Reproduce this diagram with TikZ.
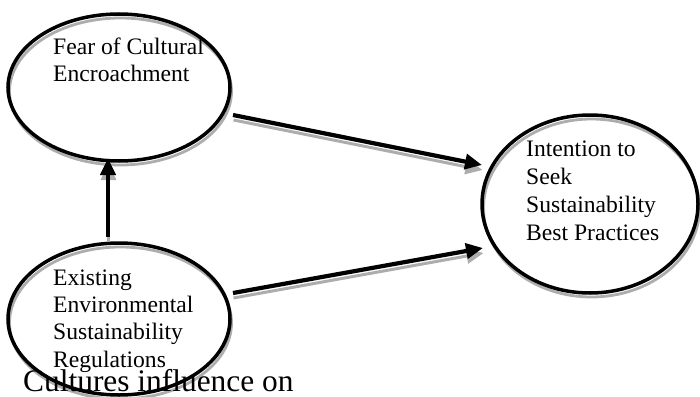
\documentclass[tikz,border=0pt]{standalone}
\usepackage{fontspec}
\setmainfont{Liberation Serif}
\usetikzlibrary{arrows.meta,shapes.geometric}
\definecolor{shadowgray}{gray}{0.68}
\tikzset{
  shadowed/.style={preaction={draw=shadowgray, line width=2.8pt, transform canvas={shift={(1.5pt,-4pt)}}}},
  bubble/.style={ellipse, draw=black, line width=3.5pt, inner sep=0pt, shadowed},
  label/.style={anchor=base west, inner sep=0pt, font=\fontsize{23.6pt}{28pt}\selectfont},
  labeltight/.style={label, font=\fontsize{23.6pt}{27.4pt}\selectfont},
  link/.style={draw=black, line width=4.2pt, -{Triangle[length=17pt,width=15pt]},
    preaction={draw=shadowgray, line width=3pt, -{Triangle[length=17pt,width=15pt]}, transform canvas={shift={(0.5pt,-5pt)}}}}
}
\begin{document}
\begin{tikzpicture}[x=1pt,y=-1pt]
\useasboundingbox (0,0) rectangle (700,396);
% ellipses
\node[bubble, minimum width=222pt, minimum height=147pt] (fear) at (119,87.5) {};
\node[bubble, minimum width=222pt, minimum height=152pt] (exist) at (119,319) {};
\node[bubble, minimum width=216pt, minimum height=178pt] (intent) at (590,204) {};
% texts
\node[label] (tfear) at (53,54) {\begin{tabular}[t]{@{}l@{}}Fear of Cultural\\Encroachment\end{tabular}};
\node[labeltight] (texist) at (53,285) {\begin{tabular}[t]{@{}l@{}}Existing\\Environmental\\Sustainability\\Regulations\end{tabular}};
\node[label] (tintent) at (526,156) {\begin{tabular}[t]{@{}l@{}}Intention to\\Seek\\Sustainability\\Best Practices\end{tabular}};
\node[anchor=base west, inner sep=0pt, font=\fontsize{31.4pt}{36pt}\selectfont] (caption) at (23,391) {Cultures influence on};
% connector end points
\coordinate (a1s) at (233,115);
\coordinate (a1e) at (482,165);
\coordinate (a2s) at (233,293);
\coordinate (a2e) at (483,248);
\coordinate (a3s) at (108,237);
\coordinate (a3e) at (108,158);
\draw[link] (a1s) -- (a1e);
\draw[link] (a2s) -- (a2e);
\draw[link] (a3s) -- (a3e);
\end{tikzpicture}
\end{document}
